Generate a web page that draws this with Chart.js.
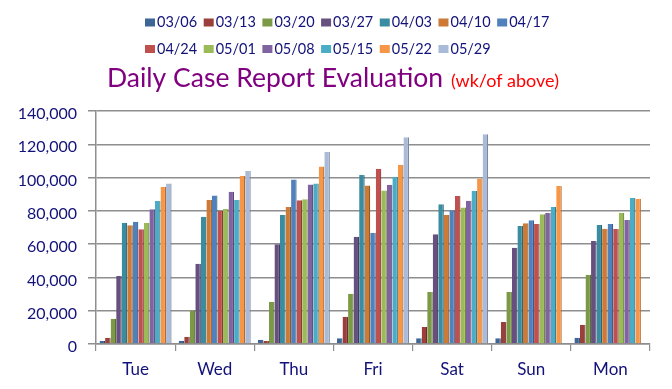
<!DOCTYPE html>
<html><head><meta charset="utf-8">
<script src="https://cdn.jsdelivr.net/npm/chart.js@4.4.1/dist/chart.umd.min.js"></script>
<style>html,body{margin:0;padding:0;background:#fff}#wrap{width:672px;height:389px}</style>
</head><body><div id="wrap"><canvas id="c" width="672" height="389"></canvas></div>
<script>
// ---- data ----
const categories = ['Tue', 'Wed', 'Thu', 'Fri', 'Sat', 'Sun', 'Mon'];
const weekLabels = ['03/06', '03/13', '03/20', '03/27', '04/03', '04/10', '04/17', '04/24', '05/01', '05/08', '05/15', '05/22', '05/29'];
const w0306 = [1800, 2000, 2500, 3500, 3500, 3400, 3800];
const w0313 = [3800, 4400, 1800, 16400, 10200, 13200, 11600];
const w0320 = [15200, 20200, 25200, 30200, 31200, 31200, 41600];
const w0327 = [40800, 48200, 60000, 64400, 65900, 57900, 61900];
const w0403 = [72900, 76500, 77500, 101500, 83900, 70900, 71500];
const w0410 = [71300, 86500, 82300, 95300, 77500, 72500, 69300];
const w0417 = [73500, 89300, 98900, 66900, 80300, 74300, 72100];
const w0424 = [68900, 79900, 86300, 105300, 89000, 72100, 69100];
const w0501 = [72700, 81100, 86900, 92300, 82000, 77900, 78900];
const w0508 = [80900, 91500, 95900, 95700, 86000, 78700, 74500];
const w0515 = [85900, 86500, 96500, 100500, 91900, 82300, 87700];
const w0522 = [94300, 100900, 106700, 107700, 99500, 94900, 87300];
const w0529 = [96500, 103900, 115300, 124300, 126100, null, null];
const seriesValues = [w0306, w0313, w0320, w0327, w0403, w0410, w0417, w0424, w0501, w0508, w0515, w0522, w0529];
const yTicks = [0, 20000, 40000, 60000, 80000, 100000, 120000, 140000];
const titleMain = 'Daily Case Report Evaluation';
const titleNote = '(wk/of above)';

// ---- styles ----
const colors = ['#3D6696', '#9A3F3C', '#7C9A46', '#66507F', '#3A8CA1', '#CC7A36',
                '#4F81BD', '#C0504D', '#9BBB59', '#8064A2', '#4BACC6', '#F79646', '#AABBD9'];
function shade(hex, f) {
  const n = parseInt(hex.slice(1), 16);
  const r = Math.round(((n >> 16) & 255) * f), g = Math.round(((n >> 8) & 255) * f), b = Math.round((n & 255) * f);
  return `rgb(${r},${g},${b})`;
}
const textColor = '#12127a';
const gridColor = '#8e8e8e';

const legendPlugin = {
  id: 'excelLegend',
  afterDraw(chart) {
    const ctx = chart.ctx;
    ctx.save();
    ctx.font = '14.5px Lato';
    ctx.textBaseline = 'middle';
    ctx.textAlign = 'left';
    const rows = [[0, 7, 22.5], [7, 13, 49]];
    rows.forEach(([a, b, y]) => {
      let x = 145;
      for (let i = a; i < b; i++) {
        const ds = chart.data.datasets[i];
        ctx.fillStyle = ds.backgroundColor;
        ctx.fillRect(x, y - 4, 10, 8);
        ctx.fillStyle = textColor;
        ctx.fillText(ds.label, x + 12, y);
        x += 12 + ctx.measureText(ds.label).width + 6.5;
      }
    });
    ctx.restore();
  }
};
const titlePlugin = {
  id: 'excelTitle',
  afterDraw(chart) {
    const ctx = chart.ctx;
    ctx.save();
    ctx.textBaseline = 'alphabetic';
    ctx.textAlign = 'left';
    ctx.font = '26.5px Lato';
    ctx.fillStyle = '#800080';
    ctx.fillText(titleMain, 107, 87);
    const w = ctx.measureText(titleMain).width;
    ctx.font = '18px Lato';
    ctx.fillStyle = '#ff0000';
    ctx.fillText(titleNote, 107 + w + 8, 87);
    ctx.restore();
  }
};

const datasets = weekLabels.map((lab, i) => ({
  label: lab,
  data: seriesValues[i],
  backgroundColor: colors[i],
  borderColor: shade(colors[i], 0.72),
  borderWidth: {top: 0, left: 0, bottom: 0, right: 1.2},
  borderSkipped: false,
  categoryPercentage: 0.91,
  barPercentage: 1.0
}));

new Chart(document.getElementById('c'), {
  type: 'bar',
  data: { labels: categories, datasets },
  options: {
    responsive: false,
    animation: false,
    layout: { padding: { top: 111, right: 22, bottom: 0, left: 0 } },
    plugins: { legend: { display: false }, title: { display: false }, tooltip: { enabled: false } },
    scales: {
      x: {
        offset: true,
        grid: { display: true, drawOnChartArea: false, offset: true, tickLength: 7, color: gridColor, lineWidth: 1.2 },
        border: { display: true, color: gridColor, width: 1.5 },
        ticks: { color: textColor, font: { family: 'Lato', size: 17 }, padding: 8 },
        afterFit(s) { s.height = 45; }
      },
      y: {
        min: 0, max: 140000,
        afterBuildTicks(s) { s.ticks = yTicks.map(v => ({ value: v })); },
        grid: { color: gridColor, lineWidth: 1.5, tickLength: 8 },
        border: { display: true, color: gridColor, width: 1.5 },
        ticks: { color: textColor, font: { family: 'Lato', size: 16 }, padding: 11, labelOffset: 3,
                 callback: v => v.toLocaleString('en-US') },
        afterFit(s) { s.width = 96; }
      }
    }
  },
  plugins: [legendPlugin, titlePlugin]
});
</script></body></html>
